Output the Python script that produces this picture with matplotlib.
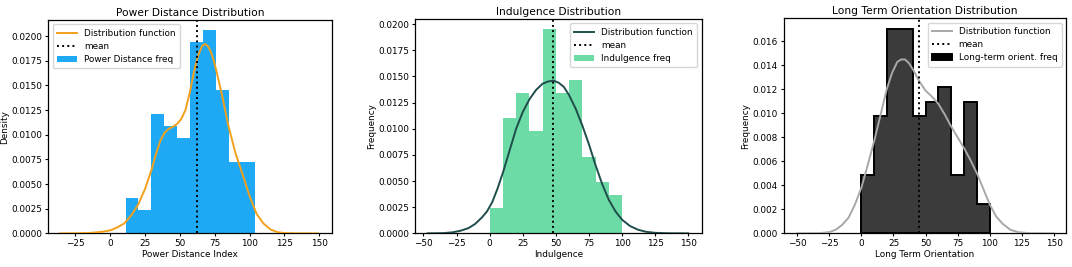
import numpy as np
import matplotlib
matplotlib.use("Agg")
import matplotlib.pyplot as plt

# Power Distance: histogram (density) and distribution curve
pdi_edges = [11, 20.3, 29.6, 38.9, 48.2, 57.5, 66.8, 76.1, 85.4, 94.7, 104]
pdi_density = [0.0036, 0.0024, 0.0121, 0.0109, 0.0097, 0.0194, 0.0206, 0.0145, 0.0072, 0.0072]
pdi_curve_x = [-36, -25, -15, -10, -5, 0, 5, 10, 15, 20, 25, 30, 33, 36, 39, 42, 45, 48, 51,
               54, 57, 60, 63, 66, 68, 70, 72, 74, 76, 78, 80, 85, 90, 95, 100, 105, 110,
               115, 120, 125, 135, 149]
pdi_curve_y = [0.0, 0.00001, 0.00004, 0.0001, 0.00018, 0.0003, 0.0006, 0.001, 0.0018, 0.0029,
               0.0045, 0.0066, 0.0081, 0.0094, 0.0102, 0.0106, 0.0108, 0.0111, 0.0116, 0.0125,
               0.0142, 0.0163, 0.0180, 0.0190, 0.0192, 0.0190, 0.0185, 0.0177, 0.0166, 0.0154,
               0.0142, 0.0108, 0.0081, 0.0060, 0.0038, 0.0020, 0.0010, 0.0004, 0.00012,
               0.00003, 0.0, 0.0]
pdi_mean = 62.5

# Indulgence
ivr_edges = [0, 10, 20, 30, 40, 50, 60, 70, 80, 90, 100]
ivr_density = [0.00244, 0.01098, 0.01341, 0.00976, 0.01951, 0.01341, 0.01463, 0.00732, 0.00488, 0.00366]
ivr_curve_x = [-47, -35, -28, -22, -16, -11, -6, -2, 2, 6, 10, 15, 20, 25, 30, 35, 40, 44, 48,
               52, 56, 60, 65, 70, 75, 80, 85, 90, 95, 100, 106, 112, 118, 125, 135, 150]
ivr_curve_y = [0.0, 0.00002, 0.0001, 0.00025, 0.0005, 0.0009, 0.0015, 0.0021, 0.0030, 0.0043,
               0.0058, 0.0079, 0.0100, 0.0116, 0.0128, 0.0137, 0.0143, 0.0145, 0.0146, 0.0144,
               0.0140, 0.0132, 0.0119, 0.0103, 0.0085, 0.0065, 0.0047, 0.0032, 0.0021, 0.0013,
               0.0007, 0.00035, 0.00015, 0.00005, 0.00001, 0.0]
ivr_mean = 48

# Long Term Orientation
lto_edges = [0, 10, 20, 30, 40, 50, 60, 70, 80, 90, 100]
lto_density = [0.00488, 0.00976, 0.01707, 0.01707, 0.00976, 0.01098, 0.0122, 0.00488, 0.01098, 0.00244]
lto_curve_x = [-50, -32, -25, -20, -15, -10, -5, 0, 5, 10, 15, 20, 24, 28, 31, 34, 37, 40, 45,
               50, 55, 60, 65, 70, 75, 80, 85, 90, 95, 100, 105, 110, 116, 122, 130, 150]
lto_curve_y = [0.0, 0.00002, 0.0001, 0.0003, 0.0007, 0.0013, 0.0024, 0.0038, 0.0057, 0.0077,
               0.0099, 0.0121, 0.0134, 0.0143, 0.0145, 0.0145, 0.0142, 0.0137, 0.0127, 0.0119,
               0.0114, 0.0108, 0.0099, 0.0089, 0.0080, 0.0071, 0.0061, 0.0050, 0.0037, 0.0024,
               0.0014, 0.0008, 0.0003, 0.0001, 0.00002, 0.0]
lto_mean = 45

fs = 6.4
plt.rcParams.update({"font.size": fs, "axes.linewidth": 0.9,
                     "xtick.major.width": 0.8, "ytick.major.width": 0.8,
                     "xtick.major.size": 2.5, "ytick.major.size": 2.5})

fig = plt.figure(figsize=(10.72, 2.67), dpi=100)

panels = [
    dict(pos=[0.045, 0.126, 0.2644, 0.799], edges=pdi_edges, dens=pdi_density,
         cx=pdi_curve_x, cy=pdi_curve_y, mean=pdi_mean, bar="#1fa9f4", edge="none",
         line="#f2a01c", title="Power Distance Distribution", xlabel="Power Distance Index",
         ylabel="Density", label="Power Distance freq", loc="upper left",
         xlim=(-44.5, 159)),
    dict(pos=[0.387, 0.126, 0.2674, 0.803], edges=ivr_edges, dens=ivr_density,
         cx=ivr_curve_x, cy=ivr_curve_y, mean=ivr_mean, bar="#6cdba5", edge="none",
         line="#1f4d4b", title="Indulgence Distribution", xlabel="Indulgence",
         ylabel="Frequency", label="Indulgence freq", loc="upper right",
         xlim=(-56.5, 160)),
    dict(pos=[0.731, 0.126, 0.2636, 0.805], edges=lto_edges, dens=lto_density,
         cx=lto_curve_x, cy=lto_curve_y, mean=lto_mean, bar="#3b3b3b", edge="black",
         line="#a8a8a8", title="Long Term Orientation Distribution", xlabel="Long Term Orientation",
         ylabel="Frequency", label="Long-term orient. freq", loc="upper right",
         xlim=(-60.5, 159.5)),
]

for p in panels:
    ax = fig.add_axes(p["pos"])
    edges = np.array(p["edges"])
    ax.plot(p["cx"], p["cy"], color=p["line"], lw=1.4, label="Distribution function", zorder=3)
    ax.axvline(p["mean"], color="black", ls=":", lw=1.4, label="mean", zorder=4)
    ax.hist(edges[:-1], bins=edges, weights=p["dens"], histtype="stepfilled",
            facecolor=p["bar"], edgecolor=p["edge"],
            linewidth=1.4 if p["edge"] != "none" else 0,
            label=p["label"], zorder=2)
    ax.set_xlim(*p["xlim"])
    ax.set_xticks([t for t in range(-50, 151, 25) if p["xlim"][0] < t < p["xlim"][1]])
    ax.set_title(p["title"], fontsize=fs * 1.2, pad=3)
    ax.set_xlabel(p["xlabel"], labelpad=1.5)
    ax.set_ylabel(p["ylabel"], labelpad=2)
    ax.tick_params(pad=1.5)
    leg = ax.legend(loc=p["loc"], fontsize=fs, handlelength=2.2, borderpad=0.5,
                    labelspacing=0.45, handletextpad=0.8)
    # the dark histogram shows a solid black swatch in the reference legend
    if p["edge"] == "black":
        leg.legend_handles[2].set_facecolor("black")

fig.savefig("out.png", dpi=100)
